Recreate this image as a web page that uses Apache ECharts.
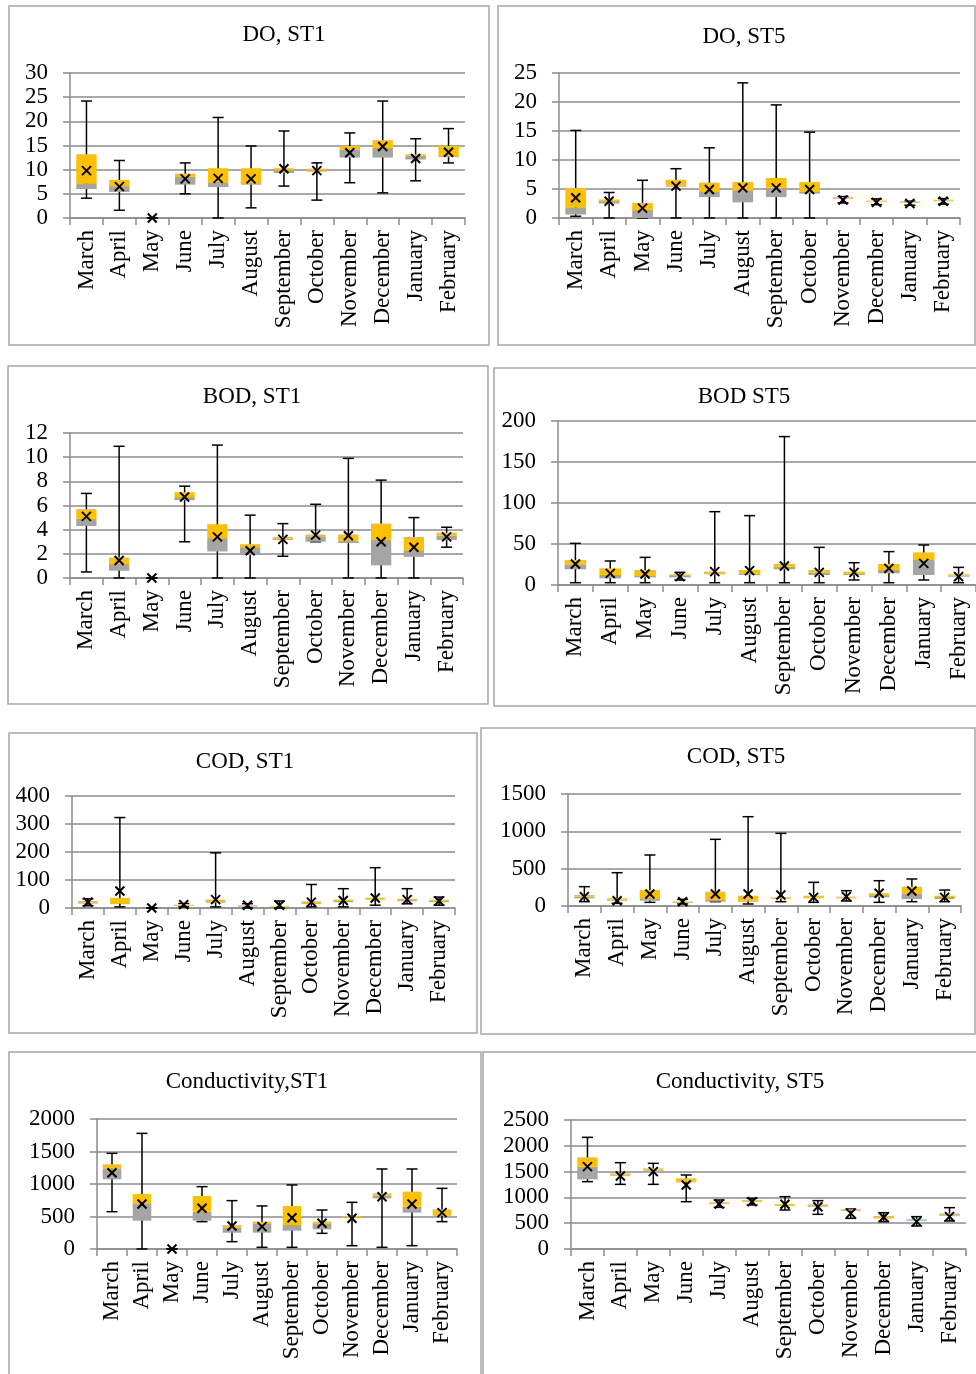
<!DOCTYPE html>
<html>
<head>
<meta charset="utf-8">
<script src="https://cdn.jsdelivr.net/npm/echarts@6/dist/echarts.min.js"></script>
<style>
html, body { margin: 0; padding: 0; background: #fff; }
#main { width: 976px; height: 1374px; }
</style>
</head>
<body>
<div id="main"></div>
<script>
var months = ['March', 'April', 'May', 'June', 'July', 'August', 'September',
    'October', 'November', 'December', 'January', 'February'];

// each row: [min, q1, median, q3, max, mean]
var doSt1 = [
    [4.1, 6.0, 7.2, 13.2, 24.2, 9.8], [1.6, 5.4, 6.6, 7.9, 11.9, 6.5], [0, 0, 0, 0, 0, 0],
    [5.0, 6.9, 8.5, 9.2, 11.4, 8.1], [0, 6.4, 7.4, 10.3, 20.8, 8.2], [2.1, 6.9, 7.2, 10.3, 14.9, 8.1],
    [6.6, 9.3, 9.9, 10.3, 18.0, 10.2], [3.7, 9.6, 9.8, 10.2, 11.4, 9.8], [7.3, 12.5, 14.1, 14.9, 17.6, 13.5],
    [5.2, 12.5, 14.5, 16.1, 24.2, 14.8], [7.7, 12.1, 12.9, 13.2, 16.4, 12.3], [11.4, 12.6, 12.8, 14.9, 18.5, 13.6]
];
var doSt5 = [
    [0.3, 0.6, 1.85, 5.2, 15.1, 3.5], [0, 2.5, 2.9, 3.2, 4.4, 2.9], [0, 0, 1.4, 2.6, 6.5, 1.7],
    [0, 5.4, 5.6, 6.6, 8.5, 5.5], [0, 3.6, 4.5, 6.1, 12.1, 4.9], [0, 2.7, 4.8, 6.2, 23.3, 5.2],
    [0, 3.6, 5.2, 6.9, 19.5, 5.2], [0, 4.2, 4.5, 6.2, 14.8, 4.9], [2.6, 3.3, 3.4, 3.6, 3.7, 3.1],
    [2.3, 2.8, 2.85, 3.0, 3.3, 2.7], [2.2, 2.6, 2.7, 2.85, 2.9, 2.5], [2.4, 2.9, 3.0, 3.15, 3.35, 2.9]
];
var bodSt1 = [
    [0.5, 4.3, 4.9, 5.7, 7.0, 5.1], [0, 0.6, 1.15, 1.7, 10.9, 1.45], [0, 0, 0, 0, 0, 0],
    [3.0, 6.45, 6.7, 7.1, 7.6, 6.7], [0, 2.2, 3.3, 4.45, 11.0, 3.4], [0, 1.9, 2.55, 2.8, 5.2, 2.25],
    [1.8, 3.15, 3.25, 3.4, 4.5, 3.2], [3.0, 3.0, 3.45, 3.6, 6.1, 3.55], [0, 2.9, 3.1, 3.6, 9.9, 3.5],
    [0, 1.05, 3.15, 4.5, 8.1, 3.0], [0, 1.75, 2.3, 3.4, 5.0, 2.55], [2.55, 3.15, 3.5, 3.75, 4.2, 3.4]
];
var bodSt5 = [
    [2.8, 19.1, 25.2, 30.5, 50.8, 25.6], [2.8, 8.1, 12.2, 20.3, 29.3, 14.2], [2.8, 9.3, 11, 18.3, 33.7, 13.4],
    [6.1, 9.3, 11, 13, 15.4, 10.2], [2.8, 13, 14.2, 16.3, 89.4, 16.3], [2.8, 12.2, 14.2, 18.3, 84.6, 17.5],
    [2.8, 19.1, 22.4, 25.6, 181, 23.2], [2.8, 12.2, 15.4, 18.3, 45.9, 15.4], [6.1, 12.2, 14.2, 16.3, 27.2, 15.4],
    [2.8, 14.2, 18.3, 25.6, 40.7, 20.3], [6.1, 12.2, 30.5, 39.8, 48.8, 26.4], [2.8, 10.2, 11.4, 13, 21.5, 10.2]
];
var codSt1 = [
    [8, 16, 20, 25, 33, 21], [4, 14, 17, 36, 323, 61], [0, 0, 0, 0, 0, 0],
    [4, 8, 10, 12, 16, 12], [4, 19, 24, 30, 197, 30], [0, 5, 7, 10, 15.5, 10],
    [0, 4, 5, 7, 25, 10], [4, 15, 18, 24, 84, 21], [4, 21, 25, 30, 69, 27],
    [10, 30, 32, 37, 144, 36], [15, 24, 28, 33, 69, 30], [10, 21, 26, 30, 39, 25]
];
var codSt5 = [
    [58, 103, 125, 147, 259, 125], [36, 71, 85, 103, 446, 71], [49, 71, 103, 214, 683, 161],
    [27, 40, 50, 60, 89, 58], [58, 58, 80, 192, 893, 161], [27, 58, 71, 138, 1196, 161],
    [58, 94, 100, 116, 973, 147], [49, 103, 115, 138, 317, 116], [67, 103, 110, 125, 205, 125],
    [49, 116, 145, 170, 339, 170], [58, 94, 170, 259, 362, 201], [58, 94, 120, 138, 214, 116]
];
var condSt1 = [
    [574, 1072, 1241, 1303, 1472, 1174], [0, 436, 703, 846, 1779, 692], [0, 0, 0, 0, 0, 0],
    [421, 436, 574, 815, 959, 626], [113, 251, 333, 369, 744, 354], [26, 251, 385, 421, 662, 344],
    [26, 282, 369, 662, 985, 482], [241, 303, 395, 421, 600, 395], [51, 482, 490, 508, 718, 472],
    [26, 779, 821, 856, 1231, 805], [51, 559, 651, 882, 1231, 692], [421, 513, 523, 610, 933, 559]
];
var condSt5 = [
    [1305, 1350, 1596, 1776, 2164, 1596], [1253, 1421, 1440, 1466, 1673, 1415], [1253, 1518, 1540, 1563, 1660, 1499],
    [917, 1292, 1305, 1370, 1434, 1240], [807, 872, 885, 904, 950, 872], [853, 917, 935, 950, 982, 917],
    [756, 840, 855, 872, 1014, 866], [672, 820, 845, 866, 937, 820], [594, 736, 750, 769, 775, 691],
    [530, 594, 615, 640, 704, 614], [446, 549, 565, 581, 627, 530], [543, 646, 670, 691, 801, 627]
];

// panel layout: title, data, y scale, plot rect, title centre, frame
var panels = [
    { title: 'DO, ST1', data: doSt1, max: 30, step: 5, grid: [70, 73, 395, 145], tx: 279, ty: 31, frame: [9, 6, 480, 339] },
    { title: 'DO, ST5', data: doSt5, max: 25, step: 5, grid: [559, 73, 401, 145], tx: 739, ty: 33, frame: [498, 6, 477, 339] },
    { title: 'BOD, ST1', data: bodSt1, max: 12, step: 2, grid: [70, 433, 393, 145], tx: 247, ty: 393, frame: [8, 366, 480, 338] },
    { title: 'BOD ST5', data: bodSt5, max: 200, step: 50, grid: [558, 421, 428, 164], tx: 739, ty: 393, frame: [494, 368, 500, 338] },
    { title: 'COD, ST1', data: codSt1, max: 400, step: 100, grid: [72, 796, 383, 112], tx: 240, ty: 758, frame: [9, 733, 468, 300] },
    { title: 'COD, ST5', data: codSt5, max: 1500, step: 500, grid: [568, 794, 393, 112], tx: 731, ty: 753, frame: [481, 728, 494, 306] },
    { title: 'Conductivity,ST1', data: condSt1, max: 2000, step: 500, grid: [97, 1119, 360, 130], tx: 242, ty: 1078, frame: [9, 1052, 472, 340] },
    { title: 'Conductivity, ST5', data: condSt5, max: 2500, step: 500, grid: [571, 1120, 395, 129], tx: 735, ty: 1078, frame: [483, 1052, 500, 340] }
];

var FONT = 'Liberation Serif';
var GRID_GRAY = '#8c8c8c';

function renderBox(params, api) {
    var i = api.value(0);
    var c = function (v) { return api.coord([i, v]); };
    var pMin = c(api.value(1)), pQ1 = c(api.value(2)), pMed = c(api.value(3));
    var pQ3 = c(api.value(4)), pMax = c(api.value(5)), pMean = c(api.value(6));
    var x = pMed[0];
    var bw = api.size([1, 0])[0] * 0.62;
    var cap = 5.5, m = 4.5;
    var ink = { stroke: '#000', lineWidth: 1.5 };
    var cross = { stroke: '#000', lineWidth: 2 };
    return {
        type: 'group',
        children: [
            { type: 'line', shape: { x1: x, y1: pMin[1], x2: x, y2: pMax[1] }, style: ink },
            { type: 'line', shape: { x1: x - cap, y1: pMax[1], x2: x + cap, y2: pMax[1] }, style: ink },
            { type: 'line', shape: { x1: x - cap, y1: pMin[1], x2: x + cap, y2: pMin[1] }, style: ink },
            { type: 'rect', shape: { x: x - bw / 2, y: pMed[1], width: bw, height: pQ1[1] - pMed[1] }, style: { fill: '#a5a5a5' } },
            { type: 'rect', shape: { x: x - bw / 2, y: pQ3[1], width: bw, height: pMed[1] - pQ3[1] }, style: { fill: '#ffc000' } },
            { type: 'line', shape: { x1: pMean[0] - m, y1: pMean[1] - m, x2: pMean[0] + m, y2: pMean[1] + m }, style: cross },
            { type: 'line', shape: { x1: pMean[0] - m, y1: pMean[1] + m, x2: pMean[0] + m, y2: pMean[1] - m }, style: cross }
        ]
    };
}

var option = {
    backgroundColor: '#fff',
    animation: false,
    title: [], grid: [], xAxis: [], yAxis: [], series: [],
    graphic: []
};

panels.forEach(function (p, k) {
    option.graphic.push({
        type: 'rect', silent: true, z: -1,
        shape: { x: p.frame[0], y: p.frame[1], width: p.frame[2], height: p.frame[3] },
        style: { fill: 'none', stroke: '#a6a6a6', lineWidth: 1.5 }
    });
    option.title.push({
        text: p.title, left: p.tx, top: p.ty - 13, textAlign: 'center',
        textStyle: { fontFamily: FONT, fontSize: 23, fontWeight: 'normal', color: '#000' }
    });
    option.grid.push({ left: p.grid[0], top: p.grid[1], width: p.grid[2], height: p.grid[3] });
    option.xAxis.push({
        type: 'category', gridIndex: k, data: months, boundaryGap: true,
        axisLine: { lineStyle: { color: GRID_GRAY, width: 1.5 } },
        axisTick: { show: true, length: 7, lineStyle: { color: GRID_GRAY, width: 1.5 } },
        axisLabel: { interval: 0, rotate: 90, margin: 12, fontFamily: FONT, fontSize: 23, color: '#000' }
    });
    option.yAxis.push({
        type: 'value', gridIndex: k, min: 0, max: p.max, interval: p.step,
        axisLine: { show: true, lineStyle: { color: GRID_GRAY, width: 1.5 } },
        axisTick: { show: true, length: 7, lineStyle: { color: GRID_GRAY, width: 1.5 } },
        splitLine: { show: true, lineStyle: { color: GRID_GRAY, width: 1.5 } },
        axisLabel: {
            margin: 22, fontFamily: FONT, fontSize: 23, color: '#000',
            formatter: function (v) { return String(v); }
        }
    });
    option.series.push({
        type: 'custom', xAxisIndex: k, yAxisIndex: k,
        renderItem: renderBox,
        encode: { x: 0, y: [1, 2, 3, 4, 5, 6] },
        data: p.data.map(function (row, i) { return [i].concat(row); })
    });
});

var myChart = echarts.init(document.getElementById('main'));
myChart.setOption(option);
</script>
</body>
</html>
